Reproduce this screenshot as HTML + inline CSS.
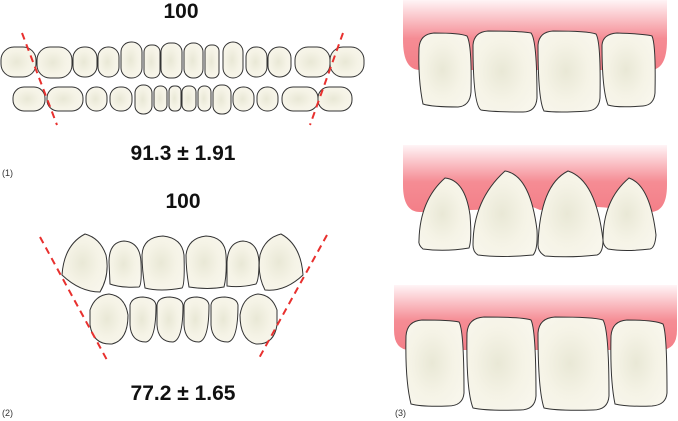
<!DOCTYPE html>
<html><head><meta charset="utf-8"><style>html,body{margin:0;padding:0;background:#fff}svg{display:block}</style></head>
<body>
<svg width="678" height="421" viewBox="0 0 678 421" xmlns="http://www.w3.org/2000/svg" font-family="Liberation Sans, Arial, sans-serif">
<defs>
<radialGradient id="t" cx="0.45" cy="0.5" r="0.6"><stop offset="0" stop-color="#e9e8d6"/><stop offset="0.6" stop-color="#f5f3e6"/><stop offset="1" stop-color="#f8f6ec"/></radialGradient>
<linearGradient id="g" x1="0" y1="0" x2="0" y2="1"><stop offset="0" stop-color="#fff4f6"/><stop offset="0.55" stop-color="#f58c94"/><stop offset="1" stop-color="#f47f88"/></linearGradient>
</defs>
<g stroke="#333" stroke-width="1" fill="url(#t)">
<rect x="1" y="47" width="35" height="30" rx="13"/><rect x="37" y="47" width="35" height="31" rx="13"/>
<rect x="73" y="47" width="24" height="30" rx="11"/><rect x="98" y="47" width="21" height="30" rx="10"/>
<rect x="121" y="42" width="21" height="36" rx="10"/><rect x="144" y="45" width="16" height="33" rx="7"/>
<rect x="161" y="43" width="21" height="35" rx="9"/><rect x="184" y="43" width="19" height="35" rx="9"/>
<rect x="205" y="45" width="14" height="33" rx="6"/><rect x="223" y="42" width="20" height="36" rx="10"/>
<rect x="246" y="47" width="21" height="30" rx="10"/><rect x="268" y="47" width="23" height="30" rx="11"/>
<rect x="295" y="47" width="35" height="30" rx="13"/><rect x="330" y="47" width="34" height="30" rx="13"/>
<rect x="13" y="87" width="32" height="24" rx="11"/><rect x="47" y="87" width="36" height="24" rx="11"/>
<rect x="86" y="87" width="21" height="24" rx="10"/><rect x="110" y="87" width="22" height="24" rx="10"/>
<rect x="135" y="85" width="17" height="29" rx="8"/><rect x="154" y="86" width="13" height="25" rx="6"/>
<rect x="169" y="86" width="12" height="25" rx="5"/><rect x="182" y="86" width="14" height="25" rx="6"/>
<rect x="198" y="86" width="13" height="25" rx="6"/><rect x="213" y="85" width="18" height="29" rx="8"/>
<rect x="233" y="87" width="21" height="24" rx="10"/><rect x="257" y="87" width="21" height="24" rx="10"/>
<rect x="282" y="87" width="36" height="24" rx="11"/><rect x="318" y="87" width="34" height="24" rx="11"/>
<path d="M62 275 Q64 245 85 234 Q100 238 106 255 Q110 275 100 292 Q80 292 62 275Z"/>
<path d="M109 262 Q109 242 124 241 Q140 242 141 262 Q142 285 139 287 Q120 288 110 284 Z"/>
<path d="M142 255 Q143 237 163 236 Q182 238 184 255 Q185 285 182 288 Q160 292 145 288 Q142 270 142 255Z"/>
<path d="M186 255 Q188 238 206 236 Q225 237 226 255 Q227 275 224 287 Q208 290 189 287 Q186 270 186 255Z"/>
<path d="M227 262 Q228 242 243 241 Q258 242 259 262 Q259 280 256 284 Q240 288 227 286 Z"/>
<path d="M303 275 Q301 245 281 234 Q265 238 260 255 Q257 275 265 290 Q285 292 303 275Z"/>
<path d="M90 310 Q95 295 109 294 Q125 296 128 315 Q128 340 112 344 Q93 345 90 325Z"/>
<path d="M130 305 Q132 297 143 297 Q155 298 156 305 Q156 340 146 342 Q131 342 130 325Z"/>
<path d="M157 305 Q158 297 170 297 Q182 298 183 305 Q183 340 173 342 Q158 342 157 325Z"/>
<path d="M184 305 Q185 297 197 297 Q208 298 209 305 Q209 340 199 342 Q185 342 184 325Z"/>
<path d="M211 305 Q212 297 225 297 Q237 298 238 305 Q238 340 228 342 Q212 342 211 325Z"/>
<path d="M277 310 Q272 295 258 294 Q243 296 240 315 Q240 340 256 344 Q274 345 277 325Z"/>
</g>
<path d="M403 0 H667 V40 Q667 70 650 70 H420 Q403 70 403 40Z" fill="url(#g)"/>
<path d="M403 145 H667 V185 Q667 212 650 212 Q625 212 610 208 Q590 206 575 207 Q560 207 540 210 Q520 200 500 205 Q490 210 470 210 Q440 212 420 212 Q403 212 403 185Z" fill="url(#g)"/>
<path d="M394 285 H677 V330 Q677 350 660 350 H410 Q394 350 394 330Z" fill="url(#g)"/>
<g stroke="#333" stroke-width="1" fill="url(#t)">
<path d="M419 48 Q420 34 434 33 Q460 33 467 36 Q472 45 471 92 Q470 106 458 107 Q432 107 423 104 Q418 80 419 48Z"/>
<path d="M473 45 Q474 32 488 31 Q520 31 531 33 Q537 40 537 98 Q536 112 523 112 Q492 112 481 110 Q473 105 473 45Z"/>
<path d="M538 45 Q539 32 553 31 Q588 31 596 34 Q601 42 600 98 Q599 110 588 111 Q557 113 544 111 Q538 100 538 45Z"/>
<path d="M602 45 Q603 34 617 33 Q646 34 652 36 Q656 45 655 93 Q654 105 643 106 Q617 108 608 105 Q602 90 602 45Z"/>
<path d="M419 240 Q420 200 445 178 Q465 180 470 215 Q472 240 469 248 Q445 252 423 249 Q418 245 419 240Z"/>
<path d="M473 245 Q473 200 505 171 Q530 175 537 230 Q538 250 533 255 Q500 258 478 255 Q473 252 473 245Z"/>
<path d="M538 245 Q540 185 568 171 Q596 180 603 240 Q603 253 597 255 Q570 258 545 256 Q538 252 538 245Z"/>
<path d="M603 240 Q603 200 629 178 Q650 185 656 235 Q655 248 650 249 Q625 252 608 249 Q603 246 603 240Z"/>
<path d="M406 336 Q407 321 422 320 Q450 320 459 322 Q464 330 464 393 Q463 406 448 406 Q422 407 411 404 Q405 380 406 336Z"/>
<path d="M467 333 Q468 318 484 317 Q523 317 531 320 Q536 330 536 396 Q535 410 520 410 Q487 411 473 408 Q466 390 467 333Z"/>
<path d="M538 333 Q539 318 555 317 Q594 317 603 320 Q609 330 609 396 Q608 410 593 410 Q557 411 544 408 Q538 390 538 333Z"/>
<path d="M611 336 Q612 321 627 320 Q655 320 663 324 Q667 333 667 393 Q666 405 652 406 Q627 407 615 404 Q610 380 611 336Z"/>
</g>
<g stroke="#e8302e" stroke-width="2" stroke-dasharray="7,5" fill="none">
<line x1="22" y1="33" x2="57" y2="125"/><line x1="343" y1="33" x2="310" y2="125"/>
<line x1="40" y1="237" x2="107" y2="360"/><line x1="327" y1="235" x2="258" y2="360"/>
</g>
<g font-weight="bold" font-size="21" text-anchor="middle" fill="#111">
<text x="181" y="18">100</text>
<text x="183" y="160">91.3 ± 1.91</text>
<text x="183" y="208">100</text>
<text x="183" y="400">77.2 ± 1.65</text>
</g>
<g font-size="9" fill="#333">
<text x="2" y="176">(1)</text><text x="2" y="416">(2)</text><text x="395" y="416">(3)</text>
</g>
</svg>
</body></html>
